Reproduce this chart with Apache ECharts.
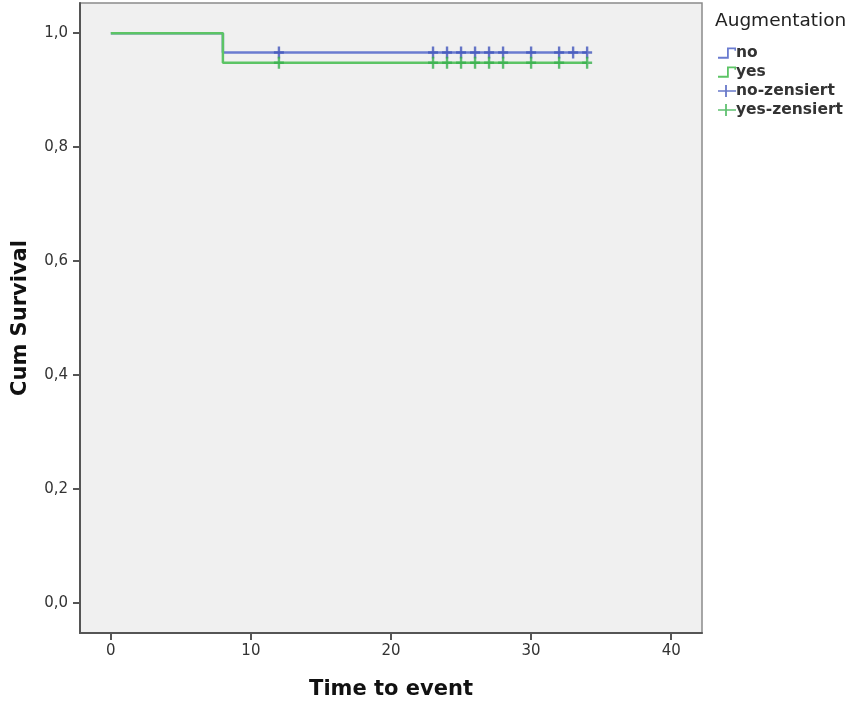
<!DOCTYPE html>
<html>
<head>
<meta charset="utf-8">
<script src="https://cdn.jsdelivr.net/npm/echarts@6/dist/echarts.min.js"></script>
<style>html,body{margin:0;padding:0;background:#fff}#c{width:849px;height:704px}</style>
</head>
<body>
<div id="c"></div>
<script>
// ---- data ----
const noStepTimes = [0, 8, 34];
const noSurvival = [1.0, 0.966, 0.966];
const yesStepTimes = [0, 8, 34];
const yesSurvival = [1.0, 0.948, 0.948];
const noCensorTimes = [12, 23, 24, 25, 26, 27, 28, 30, 32, 33, 34];
const yesCensorTimes = [12, 23, 24, 25, 26, 27, 28, 30, 32, 34];
const xTicks = [0, 10, 20, 30, 40];
const yTicks = [0, 0.2, 0.4, 0.6, 0.8, 1.0];
const legendTitle = 'Augmentation';
const seriesNames = ['no', 'yes', 'no-zensiert', 'yes-zensiert'];

function survAt(times, surv, t) {
  let s = surv[0];
  for (let i = 0; i < times.length; i++) if (times[i] <= t) s = surv[i];
  return s;
}
const pairs = (xs, ys) => xs.map((x, i) => [x, ys[i]]);

const FONT = 'DejaVu Sans';
const blueLine = '#6a7bd0', blueMark = '#4256bb';
const greenLine = '#5cc465', greenMark = '#38b04e';
const plusPath = 'path://M3.8,0h2.4v4.8h3.8v2.4h-3.8v4.8h-2.4v-4.8h-3.8v-2.4h3.8z';
const legendPlus = 'path://M0,5.3H7.1V0H8.9V5.3H18V6.7H8.9V12H7.1V6.7H0Z';
const stepIcon = 'path://M0,8.4H8V0H16V3H14.6V1.6H9.6V10H0Z';

const chart = echarts.init(document.getElementById('c'), null, {renderer: 'canvas'});
chart.setOption({
  backgroundColor: '#ffffff',
  animation: false,
  title: {
    text: legendTitle, left: 710, top: 7,
    textStyle: {fontFamily: FONT, fontSize: 18.5, fontWeight: 'normal', color: '#222'}
  },
  legend: {
    orient: 'vertical', left: 713, top: 40,
    itemWidth: 18, itemHeight: 12, itemGap: 3,
    textStyle: {fontFamily: FONT, fontSize: 15.5, fontWeight: 'bold', color: '#333', padding: [0, 0, 0, -5]},
    data: [
      {name: seriesNames[0], icon: stepIcon},
      {name: seriesNames[1], icon: stepIcon},
      {name: seriesNames[2], icon: legendPlus},
      {name: seriesNames[3], icon: legendPlus}
    ]
  },
  grid: {
    left: 80, top: 3, right: 147, bottom: 71,
    outerBoundsMode: 'none', containLabel: false,
    show: true, backgroundColor: '#f0f0f0', borderColor: '#8a8a8a', borderWidth: 1.5
  },
  xAxis: {
    type: 'value', min: -2.2, max: 42.2,
    name: 'Time to event', nameLocation: 'middle', nameGap: 46,
    nameTextStyle: {fontFamily: FONT, fontSize: 21, fontWeight: 'bold', color: '#111'},
    axisLine: {show: true, onZero: false, lineStyle: {color: '#555', width: 2}},
    axisTick: {show: true, customValues: xTicks, length: 7, lineStyle: {color: '#555', width: 2}},
    axisLabel: {customValues: xTicks, fontFamily: FONT, fontSize: 15, color: '#333', margin: 11},
    splitLine: {show: false}
  },
  yAxis: {
    type: 'value', min: -0.053, max: 1.053,
    name: 'Cum Survival', nameLocation: 'middle', nameGap: 49,
    nameTextStyle: {fontFamily: FONT, fontSize: 21, fontWeight: 'bold', color: '#111'},
    axisLine: {show: true, onZero: false, lineStyle: {color: '#555', width: 2}},
    axisTick: {show: true, customValues: yTicks, length: 7, lineStyle: {color: '#555', width: 2}},
    axisLabel: {customValues: yTicks, fontFamily: FONT, fontSize: 15, color: '#333', margin: 12,
      formatter: v => v.toFixed(1).replace('.', ',')},
    splitLine: {show: false}
  },
  series: [
    {
      name: seriesNames[0], type: 'line', step: 'end', showSymbol: false,
      data: pairs(noStepTimes, noSurvival),
      color: blueLine, lineStyle: {color: blueLine, width: 2.5}, z: 2
    },
    {
      name: seriesNames[1], type: 'line', step: 'end', showSymbol: false,
      data: pairs(yesStepTimes, yesSurvival),
      color: greenLine, lineStyle: {color: greenLine, width: 2.5}, z: 3
    },
    {
      name: seriesNames[2], type: 'scatter', symbol: plusPath, symbolSize: [10, 12],
      data: noCensorTimes.map(t => [t, survAt(noStepTimes, noSurvival, t)]),
      color: blueMark, itemStyle: {color: blueMark}, z: 4
    },
    {
      name: seriesNames[3], type: 'scatter', symbol: plusPath, symbolSize: [10, 12],
      data: yesCensorTimes.map(t => [t, survAt(yesStepTimes, yesSurvival, t)]),
      color: greenMark, itemStyle: {color: greenMark}, z: 4
    }
  ]
});
</script>
</body>
</html>
